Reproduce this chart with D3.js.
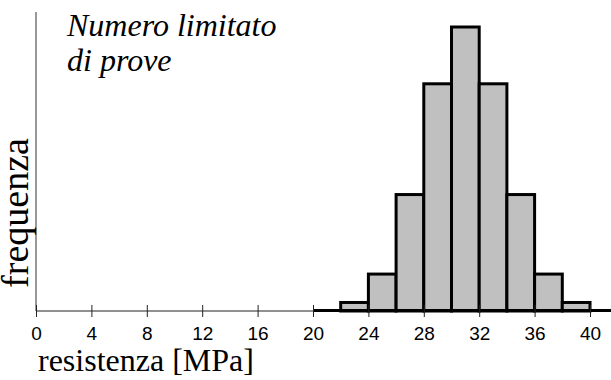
<!DOCTYPE html>
<html>
<head>
<meta charset="utf-8">
<script src="https://cdn.jsdelivr.net/npm/d3@7"></script>
<style>
  body { margin: 0; background: #fff; }
  svg { display: block; }
  .serif { font-family: "Liberation Serif", "Times New Roman", Times, "DejaVu Serif", serif; }
  .sans { font-family: "Liberation Sans", Arial, Helvetica, sans-serif; }
</style>
</head>
<body>
<div id="chart"></div>
<script>
// histogram bins (lower edge, width 2 MPa) and relative frequency
const binStarts = [20, 22, 24, 26, 28, 30, 32, 34, 36, 38, 40];
const binWidth = 2;
const freq = [0, 3, 13, 41, 80, 100, 80, 41, 13, 3, 0];
const xTicks = [0, 4, 8, 12, 16, 20, 24, 28, 32, 36, 40];

const width = 611,
  height = 380;
const baseY = 311;

const svg = d3
  .select("#chart")
  .append("svg")
  .attr("width", width)
  .attr("height", height);

const x = d3.scaleLinear().domain([0, 40]).range([36, 590]);
const y = d3.scaleLinear().domain([0, 100]).range([baseY, 27]);

// bars
svg
  .selectAll("rect.bar")
  .data(binStarts.map((s, i) => ({ s: s, f: freq[i] })).filter((d) => d.f > 0))
  .enter()
  .append("rect")
  .attr("class", "bar")
  .attr("x", (d) => x(d.s))
  .attr("y", (d) => y(d.f))
  .attr("width", (d) => x(d.s + binWidth) - x(d.s))
  .attr("height", (d) => y(0) - y(d.f))
  .style("fill", "#c0c0c0")
  .style("stroke", "#000")
  .style("stroke-width", 3);

// thin axis lines
svg
  .append("line")
  .attr("x1", x(0))
  .attr("x2", width)
  .attr("y1", baseY)
  .attr("y2", baseY)
  .style("stroke", "#222")
  .style("stroke-width", 1);

svg
  .append("line")
  .attr("x1", x(0))
  .attr("x2", x(0))
  .attr("y1", 12)
  .attr("y2", baseY)
  .style("stroke", "#333")
  .style("stroke-width", 1);

// thick histogram baseline
svg
  .append("line")
  .attr("x1", x(binStarts[0]))
  .attr("x2", x(binStarts[binStarts.length - 1] + binWidth))
  .attr("y1", baseY - 0.5)
  .attr("y2", baseY - 0.5)
  .style("stroke", "#000")
  .style("stroke-width", 3);

// x ticks
const axis = svg
  .append("g")
  .attr("transform", `translate(0,${baseY})`)
  .call(d3.axisBottom(x).tickValues(xTicks).tickSize(6).tickSizeOuter(0));

axis.attr("font-family", null).attr("font-size", null);
axis.select(".domain").remove();
axis.selectAll(".tick line").attr("y1", -6).style("stroke", "#222");
axis
  .selectAll(".tick text")
  .attr("class", "sans")
  .attr("y", 29)
  .attr("dy", null)
  .style("font-size", "19px")
  .style("fill", "#000");

// labels
svg
  .append("text")
  .attr("class", "serif")
  .attr("x", 38)
  .attr("y", 371)
  .style("font-size", "32px")
  .text("resistenza [MPa]");

svg
  .append("text")
  .attr("class", "serif")
  .attr("transform", "translate(28,213) rotate(-90)")
  .attr("text-anchor", "middle")
  .style("font-size", "38px")
  .text("frequenza");

const title = svg
  .append("text")
  .attr("class", "serif")
  .style("font-size", "32px")
  .style("font-style", "italic");

title.append("tspan").attr("x", 67).attr("y", 36).text("Numero limitato");
title.append("tspan").attr("x", 67).attr("y", 71).text("di prove");
</script>
</body>
</html>
